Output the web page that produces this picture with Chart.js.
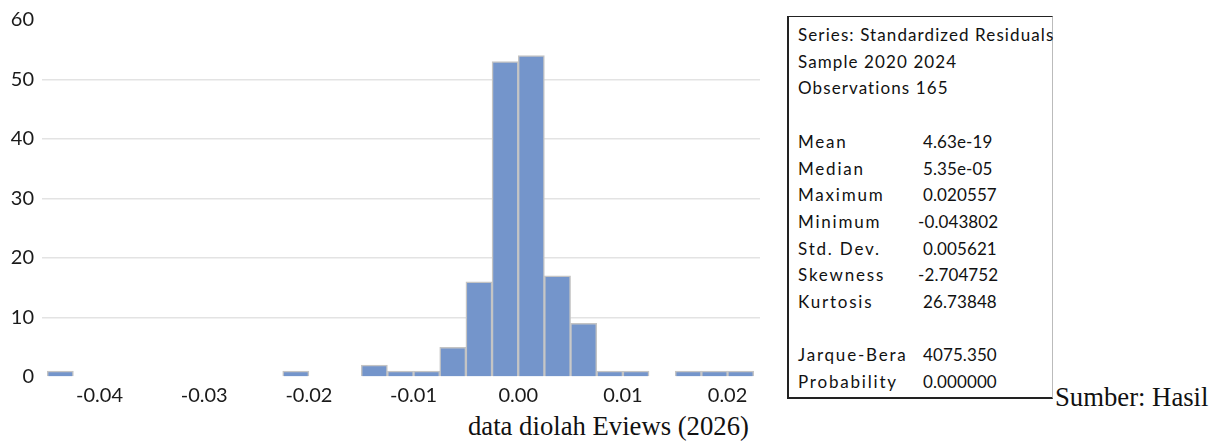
<!DOCTYPE html>
<html>
<head>
<meta charset="utf-8">
<script src="https://cdn.jsdelivr.net/npm/chart.js@4"></script>
<style>
  body { margin: 0; background: #fff; width: 1214px; height: 446px; overflow: hidden; position: relative; }
  #wrap { position: absolute; left: 0; top: 0; width: 770px; height: 410px; }
  #stats {
    position: absolute; left: 787px; top: 16px; width: 266px; height: 383px;
    border-left: 2px solid #222; border-top: 1.5px solid #222; border-bottom: 2px solid #222;
    border-right: 1px solid #bbb; box-sizing: border-box;
    font-family: Lato, "Open Sans", sans-serif; font-size: 17px; color: #111;
  }
  .row { position: absolute; left: 9px; white-space: nowrap; letter-spacing: 1.8px; }
  .head { letter-spacing: 1.1px; }
  .val { position: absolute; left: 134px; white-space: nowrap; letter-spacing: 0.1px; }
  .neg { left: 129px; }
  .serif { position: absolute; font-family: "Liberation Serif", "Times New Roman", serif; font-size: 26.7px; color: #111; white-space: nowrap; }
</style>
</head>
<body>
<div id="wrap"><canvas id="hist" width="770" height="410"></canvas></div>
<div id="stats"></div>
<div class="serif" style="left:1055px; top:382px;">Sumber: Hasil</div>
<div class="serif" style="left:468px; top:411px;">data diolah Eviews (2026)</div>
<script>
// histogram bins (left edge) and counts
const binWidth = 0.0025;
const binStart = [-0.045, -0.0225, -0.015, -0.0125, -0.01, -0.0075, -0.005, -0.0025, 0, 0.0025, 0.005, 0.0075, 0.01, 0.015, 0.0175, 0.02];
const counts = [1, 1, 2, 1, 1, 5, 16, 53, 54, 17, 9, 1, 1, 1, 1, 1];
const xTicks = [-0.04, -0.03, -0.02, -0.01, 0.00, 0.01, 0.02];

// stats box text
const headLines = ['Series: Standardized Residuals', 'Sample 2020 2024', 'Observations 165'];
const statNames = ['Mean', 'Median', 'Maximum', 'Minimum', 'Std. Dev.', 'Skewness', 'Kurtosis', '', 'Jarque-Bera', 'Probability'];
const statValues = ['4.63e-19', '5.35e-05', '0.020557', '-0.043802', '0.005621', '-2.704752', '26.73848', '', '4075.350', '0.000000'];

let box = document.getElementById('stats');
let lineH = 26.7;
let firstY = 35 - 16 - 12;
headLines.forEach(function(t, i) {
  let d = document.createElement('div');
  d.className = 'row head';
  d.style.top = (firstY + i * lineH) + 'px';
  d.textContent = t;
  box.appendChild(d);
});
statNames.forEach(function(t, i) {
  if (!t) return;
  let y = firstY + (i + 4) * lineH;
  let d = document.createElement('div');
  d.className = 'row';
  d.style.top = y + 'px';
  d.textContent = t;
  box.appendChild(d);
  let v = document.createElement('div');
  v.className = 'val' + (statValues[i][0] == '-' ? ' neg' : '');
  v.style.top = y + 'px';
  v.textContent = statValues[i];
  box.appendChild(v);
});

let points = binStart.map(function(s, i) {
  return { x: s + binWidth / 2, y: counts[i] };
});

const config = {
  type: 'bar',
  data: {
    datasets: [{
      data: points,
      backgroundColor: '#7495cb',
      borderColor: '#c4c4c4',
      borderWidth: 1.5,
      barPercentage: 1,
      categoryPercentage: 1
    }]
  },
  options: {
    responsive: false,
    animation: false,
    layout: { padding: { top: 17, right: 10, left: 0, bottom: 0 } },
    plugins: { legend: { display: false }, tooltip: { enabled: false } },
    scales: {
      x: {
        type: 'linear',
        min: -0.0455,
        max: 0.0231,
        offset: false,
        grid: { display: false, drawTicks: false, offset: false },
        border: { display: false },
        afterBuildTicks: function(scale) {
          scale.ticks = xTicks.map(function(v) { return { value: v }; });
        },
        afterFit: function(scale) { scale.height = 33; },
        ticks: {
          padding: 7,
          color: '#1a1a1a',
          font: { family: 'Lato', size: 20 },
          maxRotation: 0,
          callback: function(v) { return v.toFixed(2); }
        }
      },
      y: {
        min: 0,
        max: 60,
        grid: {
          drawTicks: false,
          color: function(ctx) {
            return (ctx.tick && (ctx.tick.value == 0 || ctx.tick.value == 60)) ? 'rgba(0,0,0,0)' : '#e3e3e3';
          },
          lineWidth: 1.5
        },
        border: { display: false },
        afterFit: function(scale) { scale.width = 42; },
        ticks: {
          stepSize: 10,
          padding: 8,
          color: '#1a1a1a',
          font: { family: 'Lato', size: 20 }
        }
      }
    }
  }
};

var myChart = new Chart(document.getElementById('hist'), config);
</script>
</body>
</html>
